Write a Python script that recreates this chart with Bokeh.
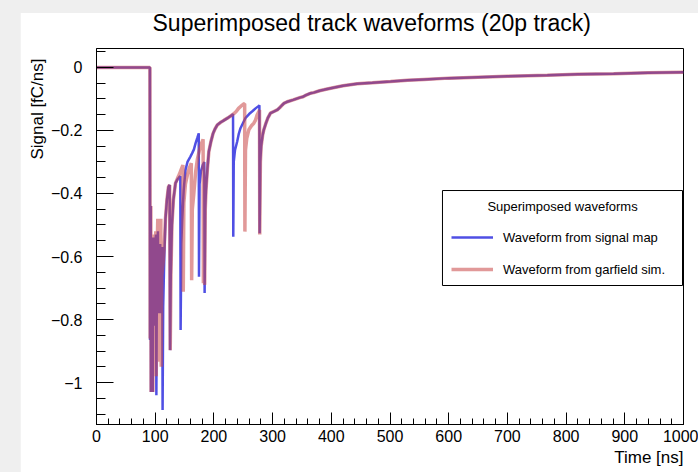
from bokeh.plotting import figure
from bokeh.models import (Range1d, SingleIntervalTicker, CustomJSTickFormatter, Title,
                          Legend, LegendItem, BoxAnnotation, Label, InlineStyleSheet)
from bokeh.layouts import column
from bokeh.embed import file_html
from bokeh.resources import INLINE

# Waveform from the signal map: time [ns] / induced signal [fC/ns]
map_time = [
    0.0, 91.0, 91.2, 92.0, 92.4, 92.8, 93.6, 95.2, 95.8, 96.6,
    98.0, 98.6, 99.6, 101.2, 102.0, 103.0, 104.6, 105.4, 106.5, 108.5,
    109.2, 110.5, 112.0, 112.6, 113.6, 115.5, 117.5, 120.0, 122.5, 124.6,
    125.4, 126.5, 128.5, 131.0, 134.6, 138.0, 140.3, 142.8, 143.3, 144.5,
    146.0, 148.5, 151.6, 155.0, 160.0, 163.0, 166.0, 168.7, 172.0, 174.2,
    174.6, 175.6, 178.0, 181.0, 183.6, 184.2, 185.2, 186.5, 189.0, 191.4,
    195.0, 198.5, 202.0, 205.6, 211.0, 217.0, 224.0, 231.0, 232.6, 233.0,
    233.8, 236.0, 239.7, 242.5, 245.3, 250.0, 254.0, 260.0, 265.0, 271.0,
    276.5, 277.5, 277.9, 279.0, 280.5, 283.0, 285.0, 289.0, 292.0, 296.4,
    302.0, 307.8, 312.0, 316.0, 320.0, 325.0, 335.0, 347.5, 352.0, 356.0,
    364.6, 370.0, 380.0, 387.2, 399.0, 420.0, 444.0, 470.0, 501.0, 530.0,
    558.0, 600.0, 650.0, 700.0, 768.0, 820.0, 881.0, 940.0, 1000.0,
]
map_signal = [
    0.0, 0.0, -0.865, -0.50, -0.44, -1.03, -0.60, -0.54, -1.03, -0.58,
    -0.54, -0.82, -0.60, -0.53, -1.04, -0.62, -0.52, -0.78, -0.62, -0.56,
    -0.78, -0.62, -0.57, -1.087, -0.76, -0.60, -0.48, -0.42, -0.38, -0.373,
    -0.897, -0.66, -0.50, -0.42, -0.367, -0.355, -0.350, -0.345, -0.833, -0.56,
    -0.484, -0.39, -0.325, -0.300, -0.283, -0.272, -0.260, -0.241, -0.222, -0.209,
    -0.664, -0.37, -0.33, -0.31, -0.30, -0.716, -0.45, -0.389, -0.32, -0.267,
    -0.235, -0.210, -0.195, -0.183, -0.175, -0.168, -0.160, -0.151, -0.148, -0.537,
    -0.30, -0.262, -0.235, -0.210, -0.193, -0.175, -0.160, -0.148, -0.140, -0.130,
    -0.122, -0.120, -0.526, -0.30, -0.25, -0.215, -0.198, -0.175, -0.160, -0.145,
    -0.140, -0.135, -0.128, -0.120, -0.113, -0.109, -0.103, -0.095, -0.093, -0.089,
    -0.082, -0.080, -0.074, -0.071, -0.066, -0.058, -0.052, -0.049, -0.045, -0.041,
    -0.038, -0.034, -0.031, -0.028, -0.025, -0.022, -0.020, -0.017, -0.015,
]

# Waveform from the garfield simulation
sim_time = [
    0.0, 91.0, 91.4, 92.2, 92.6, 93.0, 93.8, 95.4, 96.0, 96.8,
    98.2, 98.8, 99.8, 101.0, 101.8, 102.8, 104.4, 105.2, 106.3, 107.4,
    107.9, 108.8, 109.6, 110.2, 111.2, 113.5, 115.0, 117.5, 120.0, 122.5,
    124.6, 125.6, 126.8, 128.5, 131.0, 134.6, 138.0, 141.0, 144.0, 147.2,
    147.8, 148.8, 151.5, 155.0, 158.0, 161.5, 162.1, 163.2, 165.8, 169.0,
    172.0, 175.0, 178.0, 181.6, 182.1, 183.0, 183.6, 184.3, 185.3, 186.5,
    189.0, 191.4, 195.0, 198.5, 202.0, 205.6, 211.0, 217.0, 224.0, 231.0,
    235.0, 238.0, 242.0, 246.0, 251.0, 252.4, 252.8, 253.8, 256.0, 259.5,
    264.0, 268.0, 270.9, 273.7, 276.5, 277.7, 278.1, 279.2, 280.5, 283.0,
    285.0, 289.0, 292.0, 296.4, 302.0, 307.8, 312.0, 316.0, 320.0, 325.0,
    335.0, 347.5, 352.0, 356.0, 364.6, 370.0, 380.0, 387.2, 399.0, 420.0,
    444.0, 470.0, 501.0, 530.0, 558.0, 600.0, 650.0, 700.0, 768.0, 820.0,
    881.0, 940.0, 1000.0,
]
sim_signal = [
    0.0, 0.0, -0.860, -0.50, -0.44, -1.03, -0.60, -0.53, -1.03, -0.58,
    -0.53, -0.86, -0.58, -0.52, -0.98, -0.62, -0.48, -0.78, -0.55, -0.48,
    -0.934, -0.60, -0.48, -0.95, -0.66, -0.62, -0.58, -0.48, -0.42, -0.38,
    -0.373, -0.897, -0.66, -0.50, -0.42, -0.367, -0.352, -0.340, -0.325, -0.310,
    -0.712, -0.43, -0.37, -0.34, -0.32, -0.304, -0.675, -0.45, -0.40, -0.33,
    -0.29, -0.265, -0.245, -0.228, -0.685, -0.42, -0.38, -0.69, -0.45, -0.389,
    -0.32, -0.267, -0.235, -0.210, -0.195, -0.183, -0.175, -0.168, -0.160, -0.151,
    -0.145, -0.140, -0.130, -0.123, -0.116, -0.115, -0.521, -0.262, -0.225, -0.198,
    -0.185, -0.177, -0.167, -0.150, -0.140, -0.135, -0.530, -0.30, -0.25, -0.215,
    -0.198, -0.175, -0.160, -0.145, -0.140, -0.135, -0.128, -0.120, -0.113, -0.109,
    -0.103, -0.095, -0.093, -0.089, -0.082, -0.080, -0.074, -0.071, -0.066, -0.058,
    -0.052, -0.049, -0.045, -0.041, -0.038, -0.034, -0.031, -0.028, -0.025, -0.022,
    -0.020, -0.017, -0.015,
]

assert len(map_time) == len(map_signal)
assert len(sim_time) == len(sim_signal)

FONT = "Liberation Sans"

p = figure(width=678, height=472,
           x_range=Range1d(0, 1000), y_range=Range1d(-1.133, 0.06),
           output_backend="svg", toolbar_location=None,
           min_border_left=76, min_border_right=15, min_border_top=48, min_border_bottom=48,
           margin=(0, 0, 0, 20),
           background_fill_color="white", border_fill_color="white")
p.grid.visible = False
p.outline_line_color = "black"
p.outline_line_width = 1
p.outline_line_alpha = 1

# ROOT-like axes: ticks pointing into the frame
p.xaxis.ticker = SingleIntervalTicker(interval=100, num_minor_ticks=5)
p.yaxis.ticker = SingleIntervalTicker(interval=0.2, num_minor_ticks=4)
p.yaxis.formatter = CustomJSTickFormatter(code="""
    const v = Math.round(tick * 10) / 10;
    if (v === 0) return "0";
    return (v < 0 ? "\\u2212" : "") + Math.abs(v).toString();
""")
for ax in (p.xaxis[0], p.yaxis[0]):
    ax.axis_line_color = "black"
    ax.major_tick_line_color = "black"
    ax.minor_tick_line_color = "black"
    ax.major_tick_out = 0
    ax.minor_tick_out = 0
    ax.major_label_text_font = FONT
    ax.major_label_text_font_size = "16px"
    ax.major_label_text_color = "black"
p.xaxis.major_tick_in = 12
p.xaxis.minor_tick_in = 6
p.xaxis.major_label_standoff = 5
p.yaxis.major_tick_in = 17
p.yaxis.minor_tick_in = 9
p.yaxis.major_label_standoff = 14

# blank row between the frame and the heading
p.add_layout(Title(text=" ", standoff=0, text_font=FONT, text_font_size="9px"), "above")

p.title.text = "Superimposed track waveforms (20p track)"
p.title.align = "left"
p.title.offset = 56
p.title.text_font = FONT
p.title.text_font_size = "23px"
p.title.text_font_style = "normal"
p.title.text_color = "black"
p.title.standoff = 2

p.add_layout(Title(text="Signal [fC/ns]", align="right", offset=10, standoff=2,
                   text_font=FONT, text_font_size="17px", text_font_style="normal",
                   text_color="black"), "left")
p.add_layout(Title(text="Time [ns]", align="right", standoff=2,
                   text_font=FONT, text_font_size="17px", text_font_style="normal",
                   text_color="black"), "below")

r_map = p.line(map_time, map_signal, line_color="#3c3ce1", line_alpha=0.9, line_width=2.5)
r_sim = p.line(sim_time, sim_signal, line_color="#c84646", line_alpha=0.55, line_width=3.5)

# legend frame and header
p.add_layout(BoxAnnotation(left=589.4, right=998.3, top=-0.3906, bottom=-0.692,
                           fill_color="white", fill_alpha=1,
                           line_color="black", line_width=1, line_alpha=1))
p.add_layout(Label(x=793.9, y=-0.4413, text="Superimposed waveforms",
                   text_align="center", text_baseline="middle",
                   text_font=FONT, text_font_size="13px", text_color="black"))
legend = Legend(items=[LegendItem(label="Waveform from signal map", renderers=[r_map]),
                       LegendItem(label="Waveform from garfield sim.", renderers=[r_sim])],
                location=(355, 144.8), orientation="vertical", padding=0, margin=0,
                spacing=12, glyph_width=42, glyph_height=20, label_height=20,
                label_standoff=10, label_text_font=FONT, label_text_font_size="13px",
                label_text_color="black", border_line_alpha=0, background_fill_alpha=0)
p.add_layout(legend)

# grey window surround: left strip from the margin, top strip as an overlay
surround = InlineStyleSheet(css="""
:host { position: relative; }
:host::after {
    content: ""; position: absolute; left: 0; top: 0; right: 0; height: 13px;
    background: #efefef; z-index: 100; pointer-events: none;
}
""")
page = column(p, styles={"background-color": "#efefef"}, stylesheets=[surround])
open("out.html", "w").write(file_html(page, INLINE))
